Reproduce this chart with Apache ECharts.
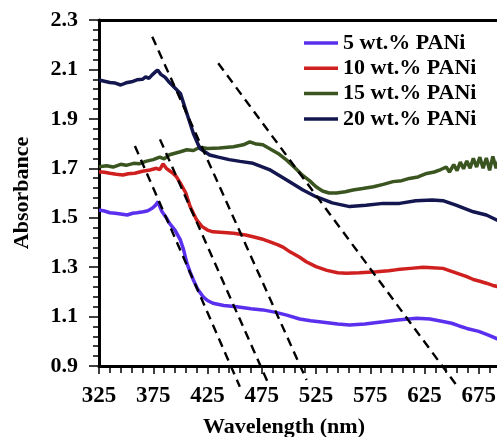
<!DOCTYPE html>
<html>
<head>
<meta charset="utf-8">
<script src="https://cdn.jsdelivr.net/npm/echarts@6/dist/echarts.min.js"></script>
<style>
html,body{margin:0;padding:0;background:#fff;}
#chart{width:497px;height:437px;}
</style>
</head>
<body>
<div id="chart"></div>
<script>
// Series names
const seriesNames = ['5 wt.% PANi', '10 wt.% PANi', '15 wt.% PANi', '20 wt.% PANi'];
const seriesColors = ['#5a30ee', '#cf1f1f', '#3b5520', '#14174f'];

// [wavelength (nm), absorbance]
const pani5 = [[325,1.531],[330,1.527],[335,1.52],[340,1.518],[345,1.515],[351,1.511],[356,1.518],[360,1.52],[366,1.524],[370,1.528],[374,1.538],[377,1.55],[379.6,1.565],[381,1.545],[383,1.525],[387,1.5],[390,1.477],[395,1.45],[400,1.41],[403,1.37],[406,1.316],[409,1.28],[412,1.248],[416,1.21],[421,1.18],[425,1.165],[430,1.154],[440,1.145],[452,1.14],[465,1.132],[476,1.127],[488,1.117],[498,1.106],[510,1.09],[520,1.083],[528,1.079],[545,1.07],[556,1.066],[570,1.07],[587,1.079],[600,1.086],[610,1.09],[618,1.093],[630,1.09],[642,1.08],[650,1.073],[657,1.062],[664,1.052],[675,1.04],[684,1.025],[692,1.01],[700,1.0]];

const pani10 = [[325,1.686],[330,1.684],[335,1.68],[341,1.676],[347,1.673],[352,1.678],[358,1.68],[365,1.688],[372,1.693],[378,1.70],[381,1.695],[384,1.718],[387,1.70],[390,1.69],[393,1.68],[396,1.668],[400,1.64],[405,1.60],[409,1.545],[415,1.491],[420,1.464],[425,1.45],[430,1.443],[440,1.44],[449,1.437],[460,1.43],[467,1.423],[475,1.414],[482,1.403],[490,1.39],[495,1.38],[501,1.362],[510,1.34],[516,1.322],[525,1.302],[535,1.287],[545,1.277],[553,1.275],[565,1.277],[581,1.281],[592,1.285],[600,1.29],[612,1.295],[624,1.30],[632,1.298],[642,1.295],[654,1.277],[664,1.262],[670,1.25],[676,1.243],[682,1.235],[688,1.226],[692,1.222],[700,1.212]];

const pani15 = [[325,1.706],[332,1.71],[338,1.705],[345,1.716],[350,1.712],[357,1.72],[362,1.718],[368,1.728],[375,1.735],[381,1.745],[385,1.738],[390,1.755],[400,1.767],[406,1.775],[412,1.772],[418,1.785],[425,1.78],[436,1.782],[449,1.787],[458,1.795],[464,1.807],[470,1.798],[476,1.795],[482,1.78],[490,1.76],[498,1.733],[506,1.70],[513,1.67],[519,1.65],[525,1.625],[531,1.608],[537,1.60],[544,1.60],[552,1.605],[559,1.612],[568,1.618],[578,1.625],[587,1.635],[596,1.646],[604,1.65],[611,1.659],[619,1.665],[627,1.679],[634,1.685],[640,1.695],[645,1.705],[648,1.685],[652,1.715],[655,1.69],[658,1.725],[661,1.698],[664,1.73],[667,1.70],[670,1.74],[673,1.705],[676,1.745],[679,1.70],[682,1.742],[685,1.692],[688,1.748],[691,1.70],[694,1.74],[697,1.71],[700,1.735]];

const pani20 = [[325,2.057],[330,2.052],[335,2.047],[340,2.045],[345,2.037],[350,2.046],[355,2.05],[360,2.058],[365,2.06],[368,2.07],[371,2.064],[374,2.078],[377,2.09],[379,2.098],[382,2.08],[386,2.068],[390,2.047],[395,2.025],[400,2.003],[406,1.922],[412,1.841],[418,1.78],[427,1.754],[435,1.745],[445,1.735],[455,1.728],[467,1.72],[482,1.695],[498,1.653],[513,1.612],[525,1.585],[540,1.56],[556,1.545],[571,1.55],[587,1.558],[602,1.558],[617,1.569],[632,1.572],[642,1.569],[654,1.551],[670,1.524],[682,1.511],[692,1.49],[700,1.48]];

// Tangent (dashed) lines: two end points each
const tangent5 = [[358.1,1.790],[454.8,0.816]];
const tangent10 = [[381.2,1.817],[480.9,0.831]];
const tangent20 = [[374.1,2.232],[516.3,0.843]];
const tangent15 = [[434.9,2.125],[654.4,0.823]];

const curves = [pani5, pani10, pani15, pani20];
const tangents = [tangent5, tangent10, tangent20, tangent15];

const FONT = 'Liberation Serif';
const chart = echarts.init(document.getElementById('chart'), null, {renderer: 'canvas'});

const series = [];
curves.forEach((d, i) => {
  series.push({
    name: seriesNames[i], type: 'line', data: d, showSymbol: false, symbol: 'none',
    lineStyle: {color: seriesColors[i], width: 3.5}, itemStyle: {color: seriesColors[i]},
    z: 2
  });
});
tangents.forEach((d) => {
  series.push({
    type: 'line', data: d, showSymbol: false, symbol: 'none', clip: false,
    lineStyle: {color: '#000', width: 2.4, type: [9, 6]}, z: 3, silent: true
  });
});

chart.setOption({
  animation: false,
  backgroundColor: '#fff',
  grid: {left: 99, top: 20, bottom: 71, right: -36, outerBoundsMode: 'none', containLabel: false},
  legend: {
    data: seriesNames, orient: 'vertical', left: 304, top: 32, padding: 0,
    itemWidth: 34, itemHeight: 3.5, itemGap: 3.3, icon: 'rect',
    textStyle: {fontFamily: FONT, fontWeight: 'bold', fontSize: 22, color: '#000', lineHeight: 22}
  },
  xAxis: [{
    type: 'value', min: 325, max: 725, interval: 50,
    name: 'Wavelength (nm)', nameLocation: 'middle', nameGap: 50,
    nameTextStyle: {fontFamily: FONT, fontWeight: 'bold', fontSize: 22, color: '#000', padding: [0, 64, 0, 0]},
    axisLine: {lineStyle: {color: '#000', width: 3}},
    axisTick: {show: true, length: 8, lineStyle: {color: '#000', width: 1.5}},
    minorTick: {show: true, splitNumber: 5, length: 7, lineStyle: {color: '#000', width: 1.5}},
    axisLabel: {fontFamily: FONT, fontWeight: 'bold', fontSize: 23, color: '#000', margin: 19, showMaxLabel: false},
    splitLine: {show: false}
  }, {
    type: 'value', position: 'top', min: 325, max: 725,
    axisLine: {lineStyle: {color: '#000', width: 3}},
    axisTick: {show: false}, axisLabel: {show: false}, splitLine: {show: false}
  }],
  yAxis: {
    type: 'value', min: 0.9, max: 2.3, interval: 0.2,
    name: 'Absorbance', nameLocation: 'middle', nameGap: 66,
    nameTextStyle: {fontFamily: FONT, fontWeight: 'bold', fontSize: 22, color: '#000'},
    axisLine: {show: true, lineStyle: {color: '#000', width: 3}},
    axisTick: {show: true, length: 10, lineStyle: {color: '#000', width: 1.5}},
    minorTick: {show: true, splitNumber: 5, length: 6, lineStyle: {color: '#000', width: 1.5}},
    axisLabel: {fontFamily: FONT, fontWeight: 'bold', fontSize: 22, color: '#000', margin: 21,
      formatter: (v) => v.toFixed(1)},
    splitLine: {show: false}
  },
  series: series
});
</script>
</body>
</html>
